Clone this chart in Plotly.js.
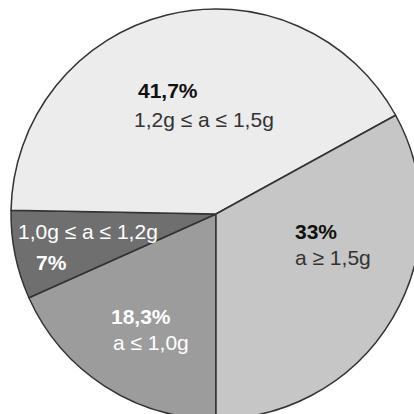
<!DOCTYPE html>
<html>
<head>
<meta charset="utf-8">
<script src="https://cdn.plot.ly/plotly-3.0.1.min.js"></script>
<style>
  html, body { margin: 0; padding: 0; background: #ffffff; overflow: hidden; width: 414px; height: 414px; }
  #chart { width: 440px; height: 440px; }
</style>
</head>
<body>
<div id="chart"></div>
<script>
// Data (clockwise from 6 o'clock)
const categories = ['a ≤ 1,0g', '1,0g ≤ a ≤ 1,2g', '1,2g ≤ a ≤ 1,5g', 'a ≥ 1,5g'];
const shares = [18.3, 7, 41.7, 33];
const shareLabels = ['18,3%', '7%', '41,7%', '33%'];

// Styles
const sliceColors = ['#9c9c9c', '#6f6f6f', '#ececec', '#c6c6c6'];
const textColorsPct = ['#ffffff', '#ffffff', '#111111', '#111111'];
const textColorsCat = ['#ffffff', '#ffffff', '#333333', '#333333'];

// Label placements in paper coords: [pctX, pctY, catX, catY]
const placements = [
  [0.2380, 0.2488, 0.2430, 0.1878],
  [0.0550, 0.3829, 0.0110, 0.4561],
  [0.3040, 0.8000, 0.2940, 0.7317],
  [0.6890, 0.4561, 0.6890, 0.3927]
];

const trace = {
  type: 'pie',
  labels: categories,
  values: shares,
  sort: false,
  direction: 'clockwise',
  rotation: 180,
  textinfo: 'none',
  hoverinfo: 'none',
  showlegend: false,
  marker: { colors: sliceColors, line: { color: '#333333', width: 1.5 } },
  domain: { x: [0, 1], y: [0, 1] }
};

const annotations = [];
categories.forEach((c, i) => {
  const p = placements[i];
  annotations.push({
    xref: 'paper', yref: 'paper', x: p[0], y: p[1],
    xanchor: 'left', yanchor: 'middle', showarrow: false,
    text: '<b>' + shareLabels[i] + '</b>',
    font: { family: 'Liberation Sans, Arial, sans-serif', size: 21, color: textColorsPct[i] }
  });
  annotations.push({
    xref: 'paper', yref: 'paper', x: p[2], y: p[3],
    xanchor: 'left', yanchor: 'middle', showarrow: false,
    text: c,
    font: { family: 'Liberation Sans, Arial, sans-serif', size: 21, color: textColorsCat[i] }
  });
});

const layout = {
  width: 440, height: 440,
  margin: { l: 11, t: 9, r: 19, b: 21, pad: 0 },
  paper_bgcolor: '#ffffff',
  plot_bgcolor: '#ffffff',
  showlegend: false,
  annotations: annotations
};

Plotly.newPlot('chart', [trace], layout, { displayModeBar: false, staticPlot: true });
</script>
</body>
</html>
